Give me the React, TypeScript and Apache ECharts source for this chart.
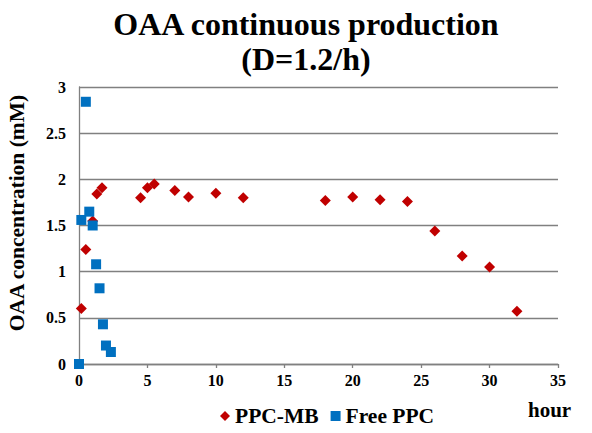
import React, { useEffect, useRef } from "react";
import * as echarts from "echarts";

const titleLines = ["OAA continuous production", "(D=1.2/h)"];
const yAxisName = "OAA concentration (mM)";
const xAxisName = "hour";
const seriesNames = ["PPC-MB", "Free PPC"];

const ppcMbX = [0.17, 0.5, 1.0, 1.3, 1.68, 4.5, 5.0, 5.5, 7, 8, 10, 12, 18, 20, 22, 24, 26, 28, 30, 32];
const ppcMbY = [0.6, 1.24, 1.55, 1.84, 1.91, 1.8, 1.91, 1.95, 1.88, 1.81, 1.85, 1.8, 1.77, 1.81, 1.78, 1.76, 1.44, 1.17, 1.05, 0.57];

const freeX = [0, 0.17, 0.5, 0.75, 1.0, 1.25, 1.5, 1.75, 1.97, 2.33];
const freeY = [0, 1.56, 2.84, 1.65, 1.5, 1.08, 0.82, 0.43, 0.2, 0.13];

const xTicks = { min: 0, max: 35, interval: 5 };
const yTicks = { min: 0, max: 3, interval: 0.5 };

const SERIF = "Liberation Serif";
const LINE = { color: "#808080", width: 1.3 };

export default function App() {
  const ref = useRef<HTMLDivElement>(null);
  useEffect(() => {
    if (!ref.current) return;
    const chart = echarts.init(ref.current, null, { renderer: "svg" });
    const pair = (xs: number[], ys: number[]) => xs.map((x, i) => [x, ys[i]]);
    chart.setOption({
      animation: false,
      backgroundColor: "#ffffff",
      graphic: [
        {
          type: "text",
          x: 306,
          y: 6,
          style: {
            text: titleLines.join("\n"),
            fontFamily: SERIF,
            fontWeight: "bold",
            fontSize: 32,
            lineHeight: 35,
            textAlign: "center",
            fill: "#000",
          },
        },
        {
          type: "text",
          x: 17,
          y: 213,
          rotation: Math.PI / 2,
          style: {
            text: yAxisName,
            fontFamily: SERIF,
            fontWeight: "bold",
            fontSize: 21.5,
            textAlign: "center",
            textVerticalAlign: "middle",
            fill: "#000",
          },
        },
        {
          type: "text",
          x: 528,
          y: 399,
          style: {
            text: xAxisName,
            fontFamily: SERIF,
            fontWeight: "bold",
            fontSize: 21,
            fill: "#000",
          },
        },
      ],
      grid: { left: 79, right: 34, top: 87, bottom: 69, containLabel: false },
      legend: {
        data: [
          { name: seriesNames[0], icon: "diamond" },
          { name: seriesNames[1], icon: "rect" },
        ],
        left: 215,
        top: 400,
        itemWidth: 10,
        itemHeight: 10,
        itemGap: 12,
        textStyle: { fontFamily: SERIF, fontWeight: "bold", fontSize: 21.5, color: "#000" },
      },
      xAxis: {
        type: "value",
        min: xTicks.min,
        max: xTicks.max,
        interval: xTicks.interval,
        axisLine: { show: true, onZero: false, lineStyle: LINE },
        axisTick: { show: true, inside: false, length: 4, lineStyle: LINE },
        splitLine: { show: false },
        axisLabel: { fontFamily: SERIF, fontWeight: "bold", fontSize: 16, color: "#000", margin: 8 },
      },
      yAxis: {
        type: "value",
        min: yTicks.min,
        max: yTicks.max,
        interval: yTicks.interval,
        axisLine: { show: true, onZero: false, lineStyle: LINE },
        axisTick: { show: false },
        splitLine: { show: true, lineStyle: LINE },
        axisLabel: { fontFamily: SERIF, fontWeight: "bold", fontSize: 16, color: "#000", margin: 13 },
      },
      series: [
        {
          name: seriesNames[0],
          type: "scatter",
          symbol: "diamond",
          symbolSize: 11,
          itemStyle: { color: "#C00000", opacity: 1 },
          data: pair(ppcMbX, ppcMbY),
          z: 2,
        },
        {
          name: seriesNames[1],
          type: "scatter",
          symbol: "rect",
          symbolSize: 10,
          itemStyle: { color: "#0070C0", opacity: 1 },
          data: pair(freeX, freeY),
          z: 3,
        },
      ],
    });
    return () => chart.dispose();
  }, []);
  return <div ref={ref} style={{ width: 592, height: 433, position: "absolute", left: 0, top: 0 }} />;
}
